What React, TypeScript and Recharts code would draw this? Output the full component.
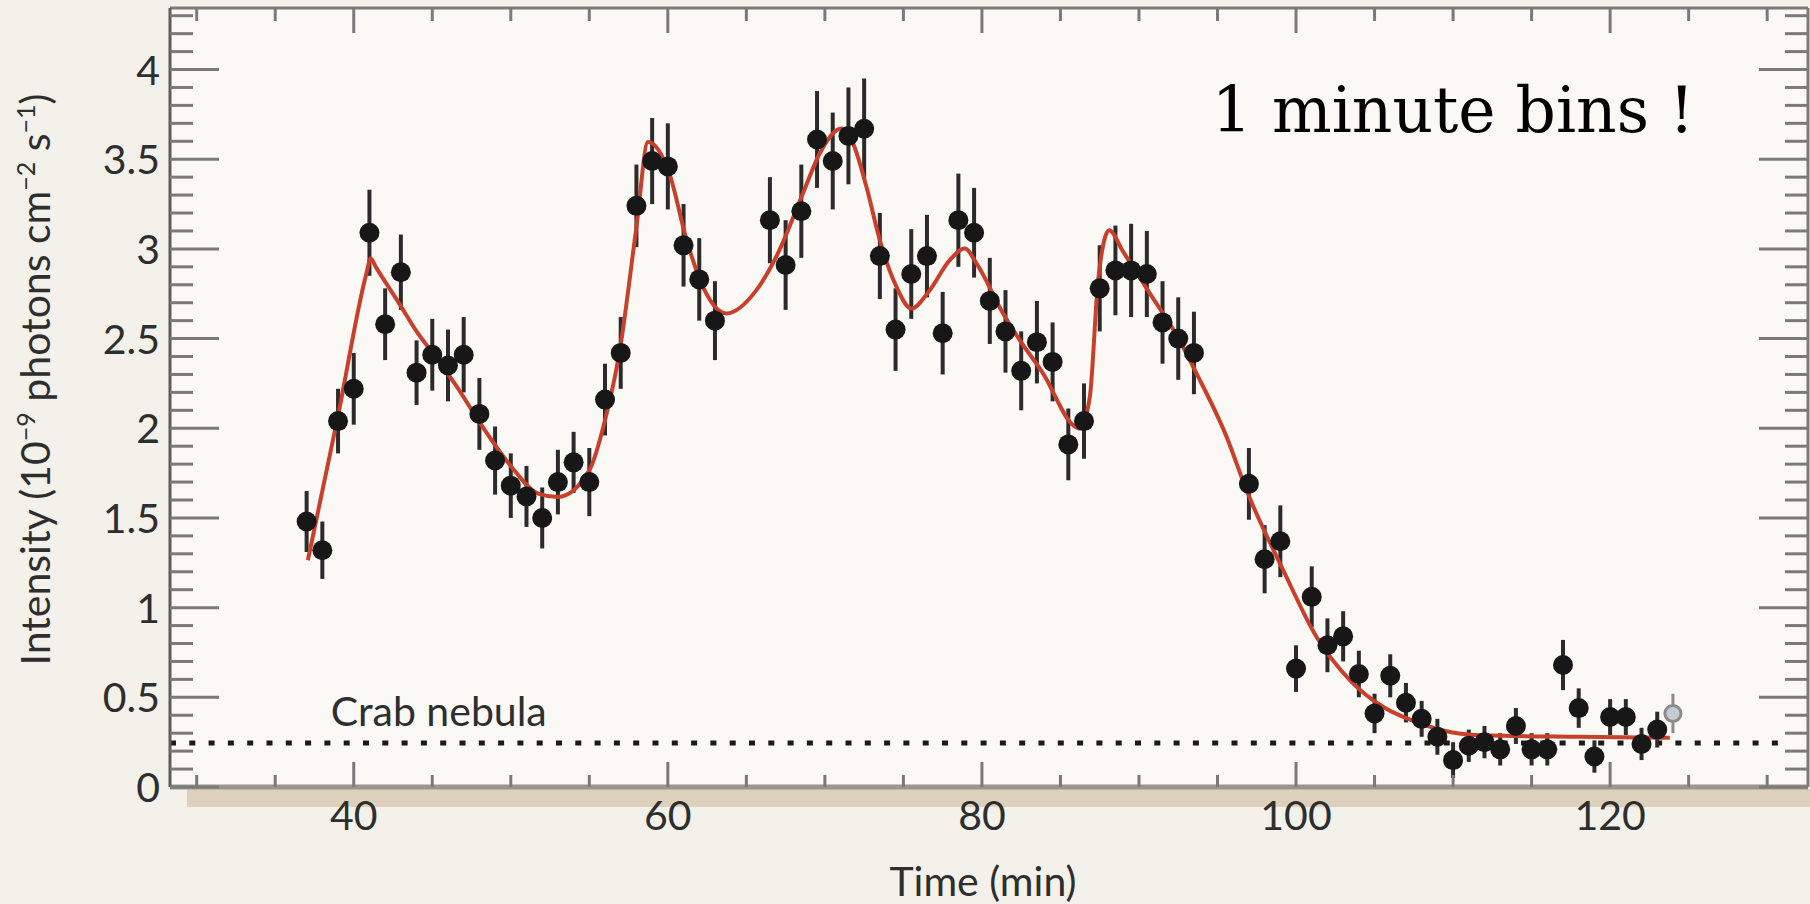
import React from 'react';
import {
  ComposedChart,
  Scatter,
  Line,
  XAxis,
  YAxis,
  ErrorBar,
  ReferenceLine,
  ReferenceDot,
  CartesianGrid,
  Label,
} from 'recharts';

// ---- data ----
const times = [
  37, 38, 39, 40, 41, 42, 43, 44, 45, 46, 47, 48, 49, 50, 51, 52, 53, 54, 55, 56, 57, 58, 59, 60, 61, 62, 63,
  66.5, 67.5, 68.5, 69.5, 70.5, 71.5, 72.5, 73.5, 74.5, 75.5, 76.5, 77.5, 78.5, 79.5, 80.5, 81.5, 82.5, 83.5,
  84.5, 85.5, 86.5, 87.5, 88.5, 89.5, 90.5, 91.5, 92.5, 93.5,
  97, 98, 99, 100, 101, 102, 103, 104, 105, 106, 107, 108, 109, 110, 111, 112, 113, 114, 115, 116, 117, 118,
  119, 120, 121, 122, 123,
];
const intensity = [
  1.48, 1.32, 2.04, 2.22, 3.09, 2.58, 2.87, 2.31, 2.41, 2.35, 2.41, 2.08, 1.82, 1.68, 1.62, 1.5, 1.7, 1.81, 1.7,
  2.16, 2.42, 3.24, 3.49, 3.46, 3.02, 2.83, 2.6,
  3.16, 2.91, 3.21, 3.61, 3.49, 3.63, 3.67, 2.96, 2.55, 2.86, 2.96, 2.53, 3.16, 3.09, 2.71, 2.54, 2.32, 2.48,
  2.37, 1.91, 2.04, 2.78, 2.88, 2.88, 2.86, 2.59, 2.5, 2.42,
  1.69, 1.27, 1.37, 0.66, 1.06, 0.79, 0.84, 0.63, 0.41, 0.62, 0.47, 0.38, 0.28, 0.15, 0.23, 0.25, 0.21, 0.34,
  0.21, 0.21, 0.68, 0.44, 0.17, 0.39, 0.39, 0.24, 0.32,
];
const errors = [
  0.17, 0.16, 0.18, 0.2, 0.24, 0.2, 0.21, 0.18, 0.2, 0.2, 0.21, 0.2, 0.19, 0.18, 0.17, 0.17, 0.18, 0.17, 0.19,
  0.2, 0.2, 0.23, 0.24, 0.24, 0.23, 0.23, 0.22,
  0.24, 0.25, 0.26, 0.27, 0.27, 0.27, 0.28, 0.24, 0.23, 0.25, 0.23, 0.23, 0.26, 0.25, 0.24, 0.23, 0.22, 0.23,
  0.22, 0.2, 0.21, 0.24, 0.25, 0.26, 0.24, 0.23, 0.23, 0.23,
  0.2, 0.19, 0.2, 0.13, 0.17, 0.15, 0.14, 0.13, 0.11, 0.12, 0.11, 0.1, 0.1, 0.1, 0.09, 0.09, 0.09, 0.1,
  0.09, 0.09, 0.14, 0.11, 0.09, 0.1, 0.1, 0.09, 0.1,
];
const openTimes = [124];
const openIntensity = [0.41];
const openErrors = [0.11];

const fitTimes = [
  37.08, 39.0, 40.8, 41.08, 41.4, 42.9, 44.0, 45.05, 46.5, 48.0, 50.0, 51.74, 53.0, 55.0, 56.0, 56.94, 58.0,
  58.74, 60.1, 61.2, 62.24, 63.73, 65.64, 67.0, 68.6, 69.67, 71.06, 71.8, 72.65, 73.5, 74.56, 75.5, 76.68,
  77.95, 78.91, 79.66, 81.35, 82.41, 83.9, 85.81, 86.24, 86.87, 87.4, 88.1, 89.0, 90.7, 92.4, 93.67, 95.58,
  96.85, 99.19, 101.31, 103.44, 105.56, 107.68, 109.8, 111.92, 118.0, 123.8,
];
const fitValues = [
  1.264, 2.07, 2.86, 2.946, 2.9, 2.695, 2.54, 2.416, 2.24, 2.035, 1.79, 1.636, 1.617, 1.766, 2.045, 2.435,
  3.122, 3.596, 3.42, 3.048, 2.788, 2.64, 2.77, 2.974, 3.309, 3.532, 3.671, 3.587, 3.345, 3.048, 2.788, 2.667,
  2.77, 2.937, 3.002, 2.918, 2.64, 2.491, 2.305, 2.017, 1.998, 2.175, 2.825, 3.104, 2.983, 2.751, 2.519, 2.305,
  1.952, 1.654, 1.208, 0.836, 0.595, 0.446, 0.362, 0.307, 0.288, 0.28, 0.275,
];

const crabLevel = 0.245;
const crabExtent = [28.3, 131.4];

const xDomain = [28.3, 132.6];
const yDomain = [0, 4.343];
const xTicks = [30, 35, 40, 45, 50, 55, 60, 65, 70, 75, 80, 85, 90, 95, 100, 105, 110, 115, 120, 125, 130];
const xLabeled = [40, 60, 80, 100, 120];
const yTicks = [
  0, 0.1, 0.2, 0.3, 0.4, 0.5, 0.6, 0.7, 0.8, 0.9, 1, 1.1, 1.2, 1.3, 1.4, 1.5, 1.6, 1.7, 1.8, 1.9, 2, 2.1, 2.2,
  2.3, 2.4, 2.5, 2.6, 2.7, 2.8, 2.9, 3, 3.1, 3.2, 3.3, 3.4, 3.5, 3.6, 3.7, 3.8, 3.9, 4, 4.1, 4.2, 4.3,
];
const yLabeled = [0, 0.5, 1, 1.5, 2, 2.5, 3, 3.5, 4];

const points = times.map((t, i) => ({ t, v: intensity[i], err: errors[i] }));
const openPoints = openTimes.map((t, i) => ({ t, v: openIntensity[i], err: openErrors[i] }));
const fit = fitTimes.map((t, i) => ({ t, v: fitValues[i] }));

// ---- styling ----
const FONT = 'Lato, "Open Sans", sans-serif';
const TEXT = '#2e2e2e';
const TICK = '#7a7a7a';

const isMajorX = (v: number) => xLabeled.some((m) => Math.abs(m - v) < 1e-6);
const isMajorY = (v: number) => yLabeled.some((m) => Math.abs(m - v) < 1e-6);

const BottomTick = (props: any) => {
  const { x, y, payload } = props;
  const major = isMajorX(payload.value);
  return (
    <g>
      <line x1={x} x2={x} y1={y} y2={y - (major ? 25 : 12)} stroke={TICK} strokeWidth={3} />
      {major && (
        <text x={x} y={y + 43} textAnchor="middle" fontSize={41} fontFamily={FONT} fill={TEXT}>
          {payload.value}
        </text>
      )}
    </g>
  );
};

const TopTick = (props: any) => {
  const { x, y, payload } = props;
  const major = isMajorX(payload.value);
  return <line x1={x} x2={x} y1={y} y2={y + (major ? 25 : 13)} stroke={TICK} strokeWidth={3} />;
};

const LeftTick = (props: any) => {
  const { x, y, payload } = props;
  const major = isMajorY(payload.value);
  return (
    <g>
      <line x1={x} x2={x + (major ? 49 : 23)} y1={y} y2={y} stroke={TICK} strokeWidth={3} />
      {major && (
        <text x={x - 10} y={y + 15} textAnchor="end" fontSize={41} fontFamily={FONT} fill={TEXT}>
          {String(payload.value)}
        </text>
      )}
    </g>
  );
};

const RightTick = (props: any) => {
  const { x, y, payload } = props;
  const major = isMajorY(payload.value);
  return <line x1={x} x2={x - (major ? 49 : 23)} y1={y} y2={y} stroke={TICK} strokeWidth={3} />;
};

const Dot = (props: any) => <circle cx={props.cx} cy={props.cy} r={10} fill="#171717" />;
const OpenDot = (props: any) => (
  <circle cx={props.cx} cy={props.cy} r={8} fill="#c3cdcf" stroke="#8c8c8c" strokeWidth={3} />
);
const NoDot = () => <g />;

export default function App() {
  return (
    <div
      style={{
        position: 'fixed',
        left: 0,
        top: 0,
        width: 1810,
        height: 904,
        background: '#f3f1e9',
        overflow: 'hidden',
      }}
    >
      <div
        style={{ position: 'absolute', left: 187, top: 789, width: 1623, height: 18, background: '#ddd1bd' }}
      />
      <div style={{ position: 'absolute', left: 0, top: 0 }}>
        <ComposedChart width={1810} height={904} margin={{ top: 0, right: 0, bottom: 0, left: 0 }}>
          <CartesianGrid horizontal={false} vertical={false} fill="#faf9f5" stroke="none" />
          <XAxis
            dataKey="t"
            type="number"
            domain={xDomain}
            ticks={xTicks}
            interval={0}
            allowDataOverflow
            height={117}
            tickLine={false}
            tickSize={0}
            tickMargin={0}
            tick={BottomTick}
            axisLine={{ stroke: '#9a958e', strokeWidth: 5 }}
          >
            <Label
              content={(p: any) => {
                const vb = p.viewBox;
                return (
                  <text
                    x={vb.x + vb.width / 2 - 6}
                    y={vb.y + 109}
                    textAnchor="middle"
                    fontSize={41}
                    fontFamily={FONT}
                    fill={TEXT}
                  >
                    Time (min)
                  </text>
                );
              }}
            />
          </XAxis>
          <XAxis
            xAxisId="top"
            orientation="top"
            dataKey="t"
            type="number"
            domain={xDomain}
            ticks={xTicks}
            interval={0}
            allowDataOverflow
            height={8}
            tickLine={false}
            tickSize={0}
            tickMargin={0}
            tick={TopTick}
            axisLine={{ stroke: '#7b7b7b', strokeWidth: 3 }}
          />
          <YAxis
            type="number"
            domain={yDomain}
            ticks={yTicks}
            interval={0}
            allowDataOverflow
            width={170}
            tickLine={false}
            tickSize={0}
            tickMargin={0}
            tick={LeftTick}
            axisLine={{ stroke: '#5c5c5c', strokeWidth: 3 }}
          >
            <Label
              content={(p: any) => {
                const vb = p.viewBox;
                const cy = vb.y + vb.height / 2 - 18;
                return (
                  <text
                    transform={`translate(${vb.x + 50}, ${cy}) rotate(-90)`}
                    textAnchor="middle"
                    fontSize={41}
                    fontFamily={FONT}
                    fill={TEXT}
                  >
                    Intensity (10
                    <tspan dy={-15} fontSize={25}>
                      −9
                    </tspan>
                    <tspan dy={15}> photons cm</tspan>
                    <tspan dy={-15} fontSize={25}>
                      −2
                    </tspan>
                    <tspan dy={15}> s</tspan>
                    <tspan dy={-15} fontSize={25}>
                      −1
                    </tspan>
                    <tspan dy={15}>)</tspan>
                  </text>
                );
              }}
            />
          </YAxis>
          <YAxis
            yAxisId="right"
            orientation="right"
            type="number"
            domain={yDomain}
            ticks={yTicks}
            interval={0}
            allowDataOverflow
            width={2}
            tickLine={false}
            tickSize={0}
            tickMargin={0}
            tick={RightTick}
            axisLine={{ stroke: '#7b7b7b', strokeWidth: 3 }}
          />

          <Scatter
            xAxisId="top"
            yAxisId="right"
            data={points}
            dataKey="v"
            shape={NoDot}
            isAnimationActive={false}
          />

          <ReferenceLine
            segment={[
              { x: crabExtent[0], y: crabLevel },
              { x: crabExtent[1], y: crabLevel },
            ]}
            stroke="#1a1a1a"
            strokeWidth={5}
            strokeDasharray="6 13.3"
          />

          <Scatter data={points} dataKey="v" shape={Dot} isAnimationActive={false}>
            <ErrorBar dataKey="err" direction="y" width={0} stroke="#2b2b2b" strokeWidth={4} />
          </Scatter>
          <Scatter data={openPoints} dataKey="v" shape={OpenDot} isAnimationActive={false}>
            <ErrorBar dataKey="err" direction="y" width={0} stroke="#8c8c8c" strokeWidth={3} />
          </Scatter>

          <Line
            data={fit}
            dataKey="v"
            type="monotone"
            stroke="#c8402b"
            strokeWidth={4}
            dot={false}
            activeDot={false}
            isAnimationActive={false}
          />

          <ReferenceDot
            x={38.53}
            y={0.338}
            r={1}
            fill="none"
            stroke="none"
            label={{
              content: (p: any) => (
                <text
                  x={p.viewBox.x + 1}
                  y={p.viewBox.y + 1}
                  fontSize={41}
                  fontFamily={FONT}
                  fill={TEXT}
                >
                  Crab nebula
                </text>
              ),
            }}
          />
          <ReferenceDot
            x={94.64}
            y={3.652}
            r={1}
            fill="none"
            stroke="none"
            label={{
              content: (p: any) => (
                <text
                  x={p.viewBox.x + 1}
                  y={p.viewBox.y + 1}
                  fontSize={63}
                  fontFamily={'"DejaVu Serif", serif'}
                  fill="#000000"
                >
                  1 minute bins !
                </text>
              ),
            }}
          />
        </ComposedChart>
      </div>
    </div>
  );
}
